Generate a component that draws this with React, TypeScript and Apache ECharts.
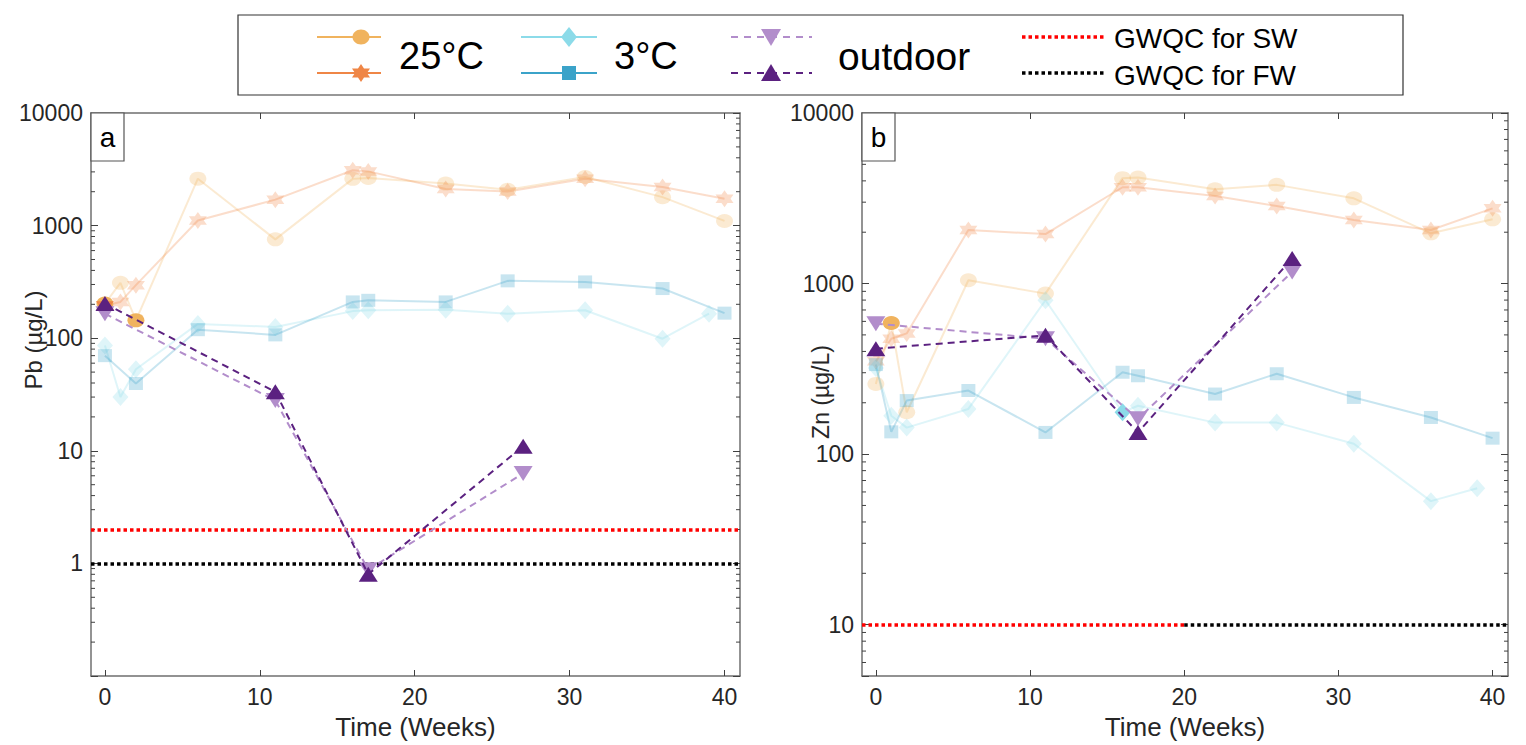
import React, { useEffect, useRef } from "react";
import * as echarts from "echarts";

// ---------- data ----------
const weeks = [0, 1, 2, 6, 11, 16, 17, 22, 26, 31, 36, 40];
const weeksDiamond = [0, 1, 2, 6, 11, 16, 17, 22, 26, 31, 36, 39];
const weeksOutdoor = [0, 11, 17, 27];
const xTicks = [0, 10, 20, 30, 40];

// Panel a: Pb (µg/L)
const pb25Circle = [203, 310, 144, 2610, 755, 2600, 2650, 2360, 2080, 2700, 1790, 1100];
const pb25Star = [195, 210, 296, 1110, 1700, 3100, 3030, 2110, 2010, 2610, 2200, 1730];
const pb3Diamond = [86, 30, 53, 134, 126, 174, 177, 179, 165, 177, 99, 165];
const pb3Square: (number | null)[] = [70, null, 39.6, 119, 107, 210, 217, 210, 323, 316, 276, 167];
const pbOutDown = [165, 28, 0.88, 6.3];
const pbOutUp = [203, 33.4, 0.8, 11];
const pbGWQC_SW = 2;
const pbGWQC_FW = 1;

// Panel b: Zn (µg/L)
const zn25Circle = [258, 587, 176, 1046, 873, 4150, 4180, 3570, 3790, 3160, 1970, 2380];
const zn25Star = [350, 475, 510, 2060, 1950, 3670, 3670, 3260, 2850, 2360, 2060, 2760];
const zn3Diamond = [320, 168, 143, 184, 798, 176, 192, 153, 153, 115, 53, 63];
const zn3Square = [335, 135, 206, 236, 134, 302, 288, 225, 296, 215, 164, 124];
const znOutDown = [582, 475, 161, 1170];
const znOutUp = [415, 497, 134, 1403];
const znGWQC = 10;
const znSwEndWeek = 20;

// weeks at which a faded series is drawn at full opacity in the source figure
const pbBrightCircle = [0, 2];
const pbBrightStar = [0];
const znBrightCircle = [1];
const znBrightDiamond = [16];

// axis ranges
const xMin = -0.9;
const xMax = 41;
const pbYMin = 0.1;
const znYMin = 5;
const yMax = 10000;

// ---------- styles ----------
const FONT = "'Liberation Sans', Arial, Helvetica, sans-serif";
const TEXT = "#262626";
const AXIS = "#6f6f6f";
const C25C = "#F0B35E";
const C25S = "#EF8646";
const C3D = "#8CDBE9";
const C3S = "#3BA3C9";
const COD = "#B28DCB";
const COU = "#5B2180";
const FADE = 0.28;

function hexagramPoints(cx: number, cy: number, rx: number, ry: number) {
  const pts: number[][] = [];
  for (let k = 0; k < 12; k++) {
    const a = -Math.PI / 2 + (k * Math.PI) / 6;
    const r = k % 2 === 0 ? 1 : 0.5774;
    pts.push([cx + (r * rx * Math.cos(a)) / 0.866, cy + r * ry * Math.sin(a)]);
  }
  return pts;
}
const STAR_PATH =
  "path://" +
  hexagramPoints(50, 50, 43.3, 50)
    .map((p, i) => (i ? "L" : "M") + p[0].toFixed(2) + "," + p[1].toFixed(2))
    .join(" ") +
  " Z";
const TRI_DOWN = "path://M0,0 L20,0 L10,16 Z";

function minorTicks(lo: number, hi: number) {
  const out: number[] = [];
  for (let d = lo; d < hi; d *= 10) {
    for (let m = 2; m <= 9; m++) {
      out.push(Math.round(m * d * 1000) / 1000);
    }
  }
  return out;
}
const pbMinor = minorTicks(0.1, 10000);
const znMinor = [6, 7, 8, 9].concat(minorTicks(10, 10000));

function makeData(xs: number[], ys: (number | null)[], bright: number[] = []) {
  const out: any[] = [];
  xs.forEach((x, i) => {
    const y = ys[i];
    if (y == null) return;
    out.push(bright.includes(x) ? { value: [x, y], itemStyle: { opacity: 1 } } : { value: [x, y] });
  });
  return out;
}

function lineSeries(
  name: string,
  xIdx: number,
  yIdx: number,
  data: any[],
  color: string,
  symbol: string,
  symbolSize: number | number[],
  faded: boolean,
  dashed: boolean,
  z: number
) {
  return {
    name,
    type: "line",
    xAxisIndex: xIdx,
    yAxisIndex: yIdx,
    data,
    symbol,
    symbolSize,
    silent: true,
    z,
    lineStyle: { color, width: 2, opacity: faded ? FADE : 1, type: dashed ? [7, 5] : "solid" },
    itemStyle: { color, opacity: faded ? FADE : 1 },
  };
}

function minorTickSeries(xIdx: number, yIdx: number, values: number[]) {
  return {
    type: "custom",
    xAxisIndex: xIdx,
    yAxisIndex: yIdx,
    silent: true,
    z: 1,
    data: values.map((v) => [0, v]),
    renderItem: (params: any, api: any) => {
      const y = api.coord([api.value(0), api.value(1)])[1];
      const cs = params.coordSys;
      return {
        type: "group",
        children: [
          { type: "line", shape: { x1: cs.x, y1: y, x2: cs.x + 4, y2: y }, style: { stroke: "#404040", lineWidth: 1 } },
          { type: "line", shape: { x1: cs.x + cs.width - 4, y1: y, x2: cs.x + cs.width, y2: y }, style: { stroke: "#404040", lineWidth: 1 } },
        ],
      };
    },
  };
}

function xAxes(gridIndex: number) {
  const common = {
    type: "value",
    gridIndex,
    min: xMin,
    max: xMax,
    splitLine: { show: false },
    axisLine: { show: true, onZero: false, lineStyle: { color: AXIS, width: 1.5 } },
    axisTick: { show: true, inside: true, length: 6, customValues: xTicks, lineStyle: { color: "#404040" } },
  };
  return [
    {
      ...common,
      position: "bottom",
      axisLabel: { customValues: xTicks, color: TEXT, fontSize: 23, fontFamily: FONT, margin: 9 },
      name: "Time (Weeks)",
      nameLocation: "middle",
      nameGap: 38,
      nameTextStyle: { color: TEXT, fontSize: 26, fontFamily: FONT },
    },
    { ...common, position: "top", axisLabel: { show: false } },
  ];
}

function yAxes(gridIndex: number, min: number) {
  const common = {
    type: "log",
    logBase: 10,
    gridIndex,
    min,
    max: yMax,
    splitLine: { show: false },
    axisLine: { show: true, onZero: false, lineStyle: { color: AXIS, width: 1.5 } },
    axisTick: { show: true, inside: true, length: 7, lineStyle: { color: "#404040" } },
  };
  return [
    {
      ...common,
      position: "left",
      axisLabel: {
        color: TEXT,
        fontSize: 23,
        fontFamily: FONT,
        margin: 8,
        formatter: (v: number) => {
          const l = Math.log10(v);
          return v >= 1 && Math.abs(l - Math.round(l)) < 1e-6 ? String(Math.round(v)) : "";
        },
      },
    },
    { ...common, position: "right", axisLabel: { show: false } },
  ];
}

function legendGraphics() {
  const y1 = 37;
  const y2 = 73;
  const els: any[] = [];
  els.push({ type: "rect", shape: { x: 238, y: 15, width: 1165, height: 80 }, style: { fill: "#fff", stroke: "#333", lineWidth: 1.2 }, z: 10 });
  // 25°C
  els.push({ type: "line", shape: { x1: 317, y1, x2: 381, y2: y1 }, style: { stroke: C25C, lineWidth: 2 }, z: 11 });
  els.push({ type: "ellipse", shape: { cx: 361, cy: y1, rx: 8.5, ry: 7.5 }, style: { fill: C25C }, z: 12 });
  els.push({ type: "line", shape: { x1: 317, y1: y2, x2: 381, y2 }, style: { stroke: C25S, lineWidth: 2 }, z: 11 });
  els.push({ type: "polygon", shape: { points: hexagramPoints(361, y2, 9, 9) }, style: { fill: C25S }, z: 12 });
  els.push({ type: "text", x: 399, y: 56, style: { text: "25°C", fontSize: 38, fontFamily: FONT, fill: "#000", verticalAlign: "middle" }, z: 12 });
  // 3°C
  els.push({ type: "line", shape: { x1: 521, y1, x2: 597, y2: y1 }, style: { stroke: C3D, lineWidth: 2 }, z: 11 });
  els.push({ type: "polygon", shape: { points: [[569, y1 - 10], [577, y1], [569, y1 + 10], [561, y1]] }, style: { fill: C3D }, z: 12 });
  els.push({ type: "line", shape: { x1: 521, y1: y2, x2: 597, y2 }, style: { stroke: C3S, lineWidth: 2 }, z: 11 });
  els.push({ type: "rect", shape: { x: 562, y: y2 - 7, width: 14, height: 14 }, style: { fill: C3S }, z: 12 });
  els.push({ type: "text", x: 614, y: 56, style: { text: "3°C", fontSize: 38, fontFamily: FONT, fill: "#000", verticalAlign: "middle" }, z: 12 });
  // outdoor
  els.push({ type: "line", shape: { x1: 731, y1, x2: 812, y2: y1 }, style: { stroke: COD, lineWidth: 2, lineDash: [7, 6] }, z: 11 });
  els.push({ type: "polygon", shape: { points: [[761, y1 - 8], [781, y1 - 8], [771, y1 + 9]] }, style: { fill: COD }, z: 12 });
  els.push({ type: "line", shape: { x1: 731, y1: y2, x2: 812, y2 }, style: { stroke: COU, lineWidth: 2, lineDash: [7, 6] }, z: 11 });
  els.push({ type: "polygon", shape: { points: [[761, y2 + 8], [781, y2 + 8], [771, y2 - 9]] }, style: { fill: COU }, z: 12 });
  els.push({ type: "text", x: 838, y: 56, style: { text: "outdoor", fontSize: 39, fontFamily: FONT, fill: "#000", verticalAlign: "middle" }, z: 12 });
  // GWQC
  els.push({ type: "line", shape: { x1: 1022, y1, x2: 1104, y2: y1 }, style: { stroke: "#ff0000", lineWidth: 3.5, lineDash: [3.5, 3] }, z: 11 });
  els.push({ type: "text", x: 1114, y: y1 + 1, style: { text: "GWQC for SW", fontSize: 28, fontFamily: FONT, fill: "#000", verticalAlign: "middle" }, z: 12 });
  els.push({ type: "line", shape: { x1: 1022, y1: y2, x2: 1104, y2 }, style: { stroke: "#000", lineWidth: 3.5, lineDash: [3.5, 3] }, z: 11 });
  els.push({ type: "text", x: 1114, y: y2 + 2, style: { text: "GWQC for FW", fontSize: 28, fontFamily: FONT, fill: "#000", verticalAlign: "middle" }, z: 12 });
  return els;
}

function panelGraphics() {
  return [
    { type: "rect", shape: { x: 91, y: 113, width: 33, height: 48 }, style: { fill: "#fff", stroke: "#555", lineWidth: 1.2 }, z: 20 },
    { type: "text", x: 107.5, y: 137, style: { text: "a", fontSize: 28, fontFamily: FONT, fill: "#000", align: "center", verticalAlign: "middle" }, z: 21 },
    { type: "rect", shape: { x: 862, y: 113, width: 33, height: 48 }, style: { fill: "#fff", stroke: "#555", lineWidth: 1.2 }, z: 20 },
    { type: "text", x: 878.5, y: 137, style: { text: "b", fontSize: 28, fontFamily: FONT, fill: "#000", align: "center", verticalAlign: "middle" }, z: 21 },
    { type: "text", x: 33, y: 340, rotation: Math.PI / 2, style: { text: "Pb (µg/L)", fontSize: 24, fontFamily: FONT, fill: TEXT, align: "center", verticalAlign: "middle" }, z: 21 },
    { type: "text", x: 821, y: 392, rotation: Math.PI / 2, style: { text: "Zn (µg/L)", fontSize: 23, fontFamily: FONT, fill: TEXT, align: "center", verticalAlign: "middle" }, z: 21 },
  ];
}

const dotted = (color: string) => ({ color, width: 3.5, type: [3.5, 3], cap: "butt", opacity: 1 });

function buildOption() {
  const series: any[] = [
    // panel a
    minorTickSeries(0, 0, pbMinor),
    lineSeries("25°C", 0, 0, makeData(weeks, pb25Circle, pbBrightCircle), C25C, "circle", [17, 14], true, false, 3),
    lineSeries("25°C star", 0, 0, makeData(weeks, pb25Star, pbBrightStar), C25S, STAR_PATH, [18, 17], true, false, 3),
    lineSeries("3°C", 0, 0, makeData(weeksDiamond, pb3Diamond), C3D, "diamond", [16, 18], true, false, 3),
    lineSeries("3°C square", 0, 0, makeData(weeks, pb3Square), C3S, "rect", [14, 13], true, false, 3),
    lineSeries("outdoor", 0, 0, makeData(weeksOutdoor, pbOutDown), COD, TRI_DOWN, [19, 15], false, true, 5),
    {
      ...lineSeries("outdoor up", 0, 0, makeData(weeksOutdoor, pbOutUp), COU, "triangle", [19, 15], false, true, 6),
      markLine: {
        silent: true,
        symbol: ["none", "none"],
        label: { show: false },
        animation: false,
        data: [
          { yAxis: pbGWQC_SW, lineStyle: dotted("#ff0000") },
          { yAxis: pbGWQC_FW, lineStyle: dotted("#000000") },
        ],
      },
    },
    // panel b
    minorTickSeries(2, 2, znMinor),
    lineSeries("25°C b", 2, 2, makeData(weeks, zn25Circle, znBrightCircle), C25C, "circle", [17, 14], true, false, 3),
    lineSeries("25°C star b", 2, 2, makeData(weeks, zn25Star), C25S, STAR_PATH, [18, 17], true, false, 3),
    lineSeries("3°C b", 2, 2, makeData(weeksDiamond, zn3Diamond, znBrightDiamond), C3D, "diamond", [16, 18], true, false, 3),
    lineSeries("3°C square b", 2, 2, makeData(weeks, zn3Square), C3S, "rect", [14, 13], true, false, 3),
    lineSeries("outdoor b", 2, 2, makeData(weeksOutdoor, znOutDown), COD, TRI_DOWN, [19, 15], false, true, 5),
    {
      ...lineSeries("outdoor up b", 2, 2, makeData(weeksOutdoor, znOutUp), COU, "triangle", [19, 15], false, true, 6),
      markLine: {
        silent: true,
        symbol: ["none", "none"],
        label: { show: false },
        animation: false,
        data: [
          [{ coord: [xMin, znGWQC], lineStyle: dotted("#ff0000") }, { coord: [znSwEndWeek, znGWQC] }],
          [{ coord: [znSwEndWeek, znGWQC], lineStyle: dotted("#000000") }, { coord: [xMax, znGWQC] }],
        ],
      },
    },
  ];

  return {
    animation: false,
    backgroundColor: "#ffffff",
    textStyle: { fontFamily: FONT },
    grid: [
      { left: 91, top: 113, width: 649, height: 563 },
      { left: 862, top: 113, width: 646, height: 563 },
    ],
    xAxis: [...xAxes(0), ...xAxes(1)],
    yAxis: [...yAxes(0, pbYMin), ...yAxes(1, znYMin)],
    series,
    graphic: { elements: [...legendGraphics(), ...panelGraphics()] },
  };
}

export default function App() {
  const ref = useRef<HTMLDivElement>(null);
  useEffect(() => {
    if (!ref.current) return;
    const chart = echarts.init(ref.current, undefined, { renderer: "svg" });
    chart.setOption(buildOption() as any);
    return () => chart.dispose();
  }, []);
  return <div ref={ref} style={{ position: "fixed", left: 0, top: 0, width: 1526, height: 745, background: "#fff" }} />;
}
